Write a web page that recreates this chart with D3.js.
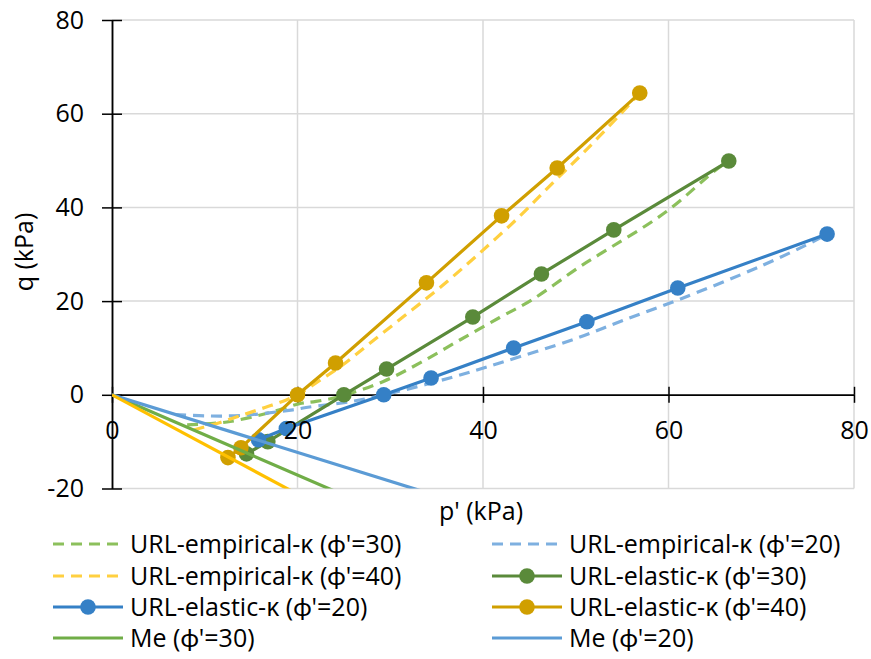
<!DOCTYPE html>
<html>
<head>
<meta charset="utf-8">
<script src="https://cdn.jsdelivr.net/npm/d3@7"></script>
<style>
  body { margin: 0; background: #fff; }
  text { font-family: "Open Sans", Lato, sans-serif; fill: #000; }
</style>
</head>
<body>
<div id="chart"></div>
<script>
// stress paths, p' and q in kPa
const empP30 = [8.1, 12.4, 17.0, 20.2, 22.0, 24.5, 29.2, 33.2, 37.5, 41.8, 45.3, 50.4, 52.5, 59.7, 65.1, 66.5];
const empQ30 = [-6.4, -5.8, -3.8, -1.9, -1.4, -0.4, 2.8, 6.8, 11.7, 16.5, 20.3, 27.3, 29.9, 39.0, 48.0, 49.9];

const empP20 = [6.8, 10.0, 14.0, 19.5, 21.3, 25.6, 30.2, 36.4, 41.8, 50.0, 55.0, 61.1, 70.0, 75.9, 77.1];
const empQ20 = [-4.2, -4.5, -4.4, -3.2, -2.6, -1.5, 0.4, 3.6, 6.8, 12.0, 15.8, 20.3, 27.5, 33.0, 34.3];

const empP40 = [8.8, 11.5, 14.1, 16.5, 18.8, 20.5, 22.5, 24.9, 27.8, 31.5, 35.3, 39.5, 43.9, 47.5, 51.0, 54.9, 56.9];
const empQ40 = [-7.5, -6.0, -4.3, -2.7, -1.1, 0.6, 3.2, 6.4, 11.0, 16.8, 22.8, 30.0, 38.0, 45.2, 52.0, 60.1, 64.4];

const elaP30 = [14.5, 16.8, 25.0, 29.6, 38.9, 46.3, 54.1, 66.5];
const elaQ30 = [-12.6, -10.0, 0, 5.5, 16.6, 25.8, 35.2, 49.9];

const elaP20 = [15.8, 18.8, 29.3, 34.4, 43.3, 51.2, 61.0, 77.1];
const elaQ20 = [-9.6, -7.2, 0, 3.6, 10.0, 15.6, 22.8, 34.3];

const elaP40 = [12.5, 13.9, 20.0, 24.1, 33.9, 42.0, 48.0, 56.9];
const elaQ40 = [-13.4, -11.3, 0, 6.8, 23.9, 38.2, 48.4, 64.4];

// failure lines in extension
const meP30 = [0, 30];
const meQ30 = [0, -25.7];
const meP20 = [0, 40];
const meQ20 = [0, -24.6];
const meP40 = [0, 25];
const meQ40 = [0, -26.5];

const xTicks = [0, 20, 40, 60, 80];
const yTicks = [-20, 0, 20, 40, 60, 80];

const zip = (p, q) => p.map((v, i) => ({p: v, q: q[i]}));

const series = [
  {name: "URL-empirical-κ (ϕ'=30)", data: zip(empP30, empQ30), color: "#8cc05c", dash: "11,7", dots: false, smooth: true},
  {name: "URL-empirical-κ (ϕ'=20)", data: zip(empP20, empQ20), color: "#7eb0e0", dash: "11,7", dots: false, smooth: true},
  {name: "URL-empirical-κ (ϕ'=40)", data: zip(empP40, empQ40), color: "#ffd040", dash: "11,7", dots: false, smooth: true},
  {name: "URL-elastic-κ (ϕ'=30)", data: zip(elaP30, elaQ30), color: "#5a8a3a", dash: null, dots: true},
  {name: "URL-elastic-κ (ϕ'=20)", data: zip(elaP20, elaQ20), color: "#3580c6", dash: null, dots: true},
  {name: "URL-elastic-κ (ϕ'=40)", data: zip(elaP40, elaQ40), color: "#d09f00", dash: null, dots: true},
  {name: "Me (ϕ'=30)", data: zip(meP30, meQ30), color: "#70ad47", dash: null, dots: false},
  {name: "Me (ϕ'=20)", data: zip(meP20, meQ20), color: "#5b9bd5", dash: null, dots: false},
  {name: null, data: zip(meP40, meQ40), color: "#ffc000", dash: null, dots: false}
];

const width = 871, height = 659;
const fontSize = 25;
const lineW = 3.2;

const x = d3.scaleLinear().domain([0, 80]).range([112, 854]);
const y = d3.scaleLinear().domain([-20, 80]).range([488.5, 20]);

const svg = d3.select("#chart").append("svg")
    .attr("width", width)
    .attr("height", height)
    .style("font-size", fontSize + "px");

svg.append("clipPath")
    .attr("id", "clip")
  .append("rect")
    .attr("x", x(0))
    .attr("y", y(80))
    .attr("width", x(80) - x(0))
    .attr("height", y(-20) - y(80));

// gridlines
const grid = svg.append("g").attr("stroke", "#d9d9d9").attr("stroke-width", 1.5);
grid.selectAll(".gx")
  .data(xTicks.filter(d => d !== 0))
  .enter().append("line")
    .attr("x1", d => x(d)).attr("x2", d => x(d))
    .attr("y1", y(-20)).attr("y2", y(80));
grid.selectAll(".gy")
  .data(yTicks.filter(d => d !== 0))
  .enter().append("line")
    .attr("x1", x(0)).attr("x2", x(80))
    .attr("y1", d => y(d)).attr("y2", d => y(d));

// axis lines with ticks crossing both sides
function axisLines(gen) {
  return g => {
    g.call(gen.tickSizeOuter(0).tickFormat(""));
    g.selectAll("path, line").attr("stroke", "#000").attr("stroke-width", 1.5);
  };
}
svg.append("g").attr("transform", `translate(0,${y(0)})`)
    .call(axisLines(d3.axisBottom(x).tickValues(xTicks).tickSize(8)));
svg.append("g").attr("transform", `translate(0,${y(0)})`)
    .call(axisLines(d3.axisTop(x).tickValues(xTicks).tickSize(8)));
svg.append("g").attr("transform", `translate(${x(0)},0)`)
    .call(axisLines(d3.axisLeft(y).tickValues(yTicks).tickSize(10)));
svg.append("g").attr("transform", `translate(${x(0)},0)`)
    .call(axisLines(d3.axisRight(y).tickValues(yTicks).tickSize(10)));

// series
const plot = svg.append("g").attr("clip-path", "url(#clip)");
series.forEach(s => {
  const line = d3.line()
      .x(d => x(d.p))
      .y(d => y(d.q))
      .curve(s.smooth ? d3.curveCatmullRom : d3.curveLinear);
  plot.append("path")
      .datum(s.data)
      .attr("fill", "none")
      .attr("stroke", s.color)
      .attr("stroke-width", lineW)
      .attr("stroke-dasharray", s.dash)
      .attr("stroke-linejoin", "round")
      .attr("d", line);
  if (s.dots) {
    plot.selectAll(null)
      .data(s.data)
      .enter().append("circle")
        .attr("cx", d => x(d.p))
        .attr("cy", d => y(d.q))
        .attr("r", 7.8)
        .attr("fill", s.color);
  }
});

// tick labels sit over the series (plain hyphen for negatives)
const plain = d => String(d);
const xLab = svg.append("g").attr("transform", `translate(0,${y(0)})`)
    .call(d3.axisBottom(x).tickValues(xTicks).tickFormat(plain).tickSize(0).tickPadding(26));
xLab.select(".domain").remove();
const yLab = svg.append("g").attr("transform", `translate(${x(0)},0)`)
    .call(d3.axisLeft(y).tickValues(yTicks).tickFormat(plain).tickSize(0).tickPadding(28));
yLab.select(".domain").remove();
svg.selectAll(".tick text")
    .style("font-family", "'Open Sans', Lato, sans-serif")
    .attr("font-size", fontSize)
    .attr("fill", "#000");

// axis titles
svg.append("text")
    .attr("x", 481).attr("y", 520)
    .attr("text-anchor", "middle")
    .text("p' (kPa)");
svg.append("text")
    .attr("transform", "translate(33,252) rotate(-90)")
    .attr("text-anchor", "middle")
    .text("q (kPa)");

// legend, two columns
const legendCols = [53, 492];
const legendRows = [544, 576, 607, 638];
const legend = svg.append("g");
series.filter(s => s.name).forEach((s, i) => {
  const lx = legendCols[i % 2], ly = legendRows[Math.floor(i / 2)];
  const item = legend.append("g").attr("transform", `translate(${lx},${ly})`);
  item.append("line")
      .attr("x1", 0).attr("x2", 70)
      .attr("stroke", s.color)
      .attr("stroke-width", lineW)
      .attr("stroke-dasharray", s.dash);
  if (s.dots) {
    item.append("circle").attr("cx", 35).attr("r", 7.8).attr("fill", s.color);
  }
  item.append("text")
      .attr("x", 77)
      .attr("dy", "0.35em")
      .text(s.name);
});
</script>
</body>
</html>
